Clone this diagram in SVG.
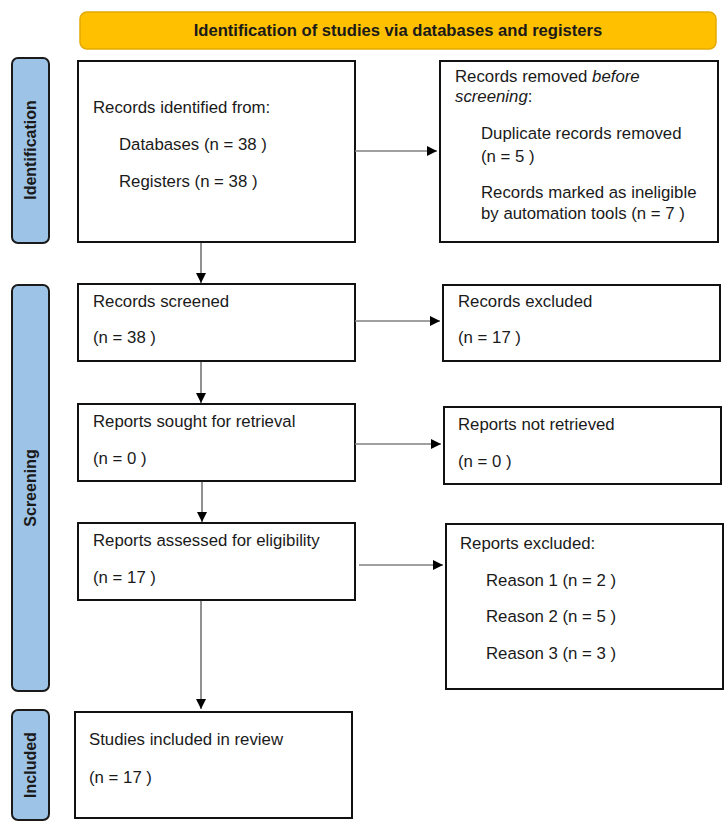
<svg xmlns="http://www.w3.org/2000/svg" width="728" height="828" viewBox="0 0 728 828">
<style>
.box{fill:#fff;stroke:#111;stroke-width:2}
.side{fill:#9DC3E6;stroke:#1a1a1a;stroke-width:2}
.t{font-family:"Liberation Sans",Arial,sans-serif;font-size:16.8px;fill:#1a1a1a}
.b{font-family:"Liberation Sans",Arial,sans-serif;font-size:16px;font-weight:bold;fill:#1a1a1a}
.bt{font-size:16.6px}
.h{stroke:#808080;stroke-width:1.5;fill:none}
.v{stroke:#222;stroke-width:1;fill:none}
</style>
<defs>
<marker id="ah" viewBox="0 0 10 10" refX="10" refY="5" markerWidth="10" markerHeight="10" markerUnits="userSpaceOnUse" orient="auto">
<path d="M0,0 L10,5 L0,10 Z" fill="#000"/>
</marker>
</defs>
<g id="banner">
<rect x="80" y="12" width="636" height="37" rx="7" fill="#FFC000" stroke="#E3A900" stroke-width="1.5"/>
<text class="b bt" x="398" y="36" text-anchor="middle">Identification of studies via databases and registers</text>
</g>
<g id="side-identification">
<rect class="side" x="12" y="58" width="37" height="185" rx="6"/>
<text class="b" transform="translate(36,150) rotate(-90)" text-anchor="middle">Identification</text>
</g>
<g id="side-screening">
<rect class="side" x="12" y="285" width="37" height="406" rx="6"/>
<text class="b" transform="translate(36,488) rotate(-90)" text-anchor="middle">Screening</text>
</g>
<g id="side-included">
<rect class="side" x="12" y="710" width="37" height="110" rx="6"/>
<text class="b" transform="translate(36,765) rotate(-90)" text-anchor="middle">Included</text>
</g>
<g id="records-identified">
<rect class="box" x="78" y="61" width="277" height="181"/>
<text class="t" x="93" y="113">Records identified from:</text>
<text class="t" x="119" y="150">Databases (n = 38 )</text>
<text class="t" x="119" y="187">Registers (n = 38 )</text>
</g>
<g id="records-removed">
<rect class="box" x="440" y="61" width="278" height="181"/>
<text class="t" x="455" y="82">Records removed <tspan font-style="italic">before</tspan></text>
<text class="t" x="455" y="102"><tspan font-style="italic">screening</tspan>:</text>
<text class="t" x="481" y="139">Duplicate records removed</text>
<text class="t" x="481" y="162">(n = 5 )</text>
<text class="t" x="481" y="198">Records marked as ineligible</text>
<text class="t" x="481" y="219">by automation tools (n = 7 )</text>
</g>
<g id="records-screened">
<rect class="box" x="78" y="284" width="277" height="77"/>
<text class="t" x="93" y="307">Records screened</text>
<text class="t" x="93" y="343">(n = 38 )</text>
</g>
<g id="records-excluded">
<rect class="box" x="443" y="285" width="277" height="76"/>
<text class="t" x="458" y="307">Records excluded</text>
<text class="t" x="458" y="343">(n = 17 )</text>
</g>
<g id="reports-sought">
<rect class="box" x="78" y="404" width="277" height="77"/>
<text class="t" x="93" y="427">Reports sought for retrieval</text>
<text class="t" x="93" y="464">(n = 0 )</text>
</g>
<g id="reports-not-retrieved">
<rect class="box" x="444" y="407" width="277" height="77"/>
<text class="t" x="458" y="430">Reports not retrieved</text>
<text class="t" x="458" y="467">(n = 0 )</text>
</g>
<g id="reports-assessed">
<rect class="box" x="78" y="523" width="277" height="77"/>
<text class="t" x="93" y="546">Reports assessed for eligibility</text>
<text class="t" x="93" y="583">(n = 17 )</text>
</g>
<g id="reports-excluded">
<rect class="box" x="446" y="524" width="277" height="165"/>
<text class="t" x="460" y="549">Reports excluded:</text>
<text class="t" x="486" y="586">Reason 1 (n = 2 )</text>
<text class="t" x="486" y="622">Reason 2 (n = 5 )</text>
<text class="t" x="486" y="659">Reason 3 (n = 3 )</text>
</g>
<g id="studies-included">
<rect class="box" x="75" y="712" width="277" height="106"/>
<text class="t" x="89" y="745">Studies included in review</text>
<text class="t" x="89" y="783">(n = 17 )</text>
</g>
<g id="connectors">
<line class="h" x1="355" y1="151" x2="437" y2="151" marker-end="url(#ah)"/>
<line class="h" x1="355" y1="321" x2="440" y2="321" marker-end="url(#ah)"/>
<line class="h" x1="355" y1="444" x2="441" y2="444" marker-end="url(#ah)"/>
<line class="h" x1="359" y1="565" x2="443" y2="565" marker-end="url(#ah)"/>
<line class="v" x1="201" y1="242" x2="201" y2="283" marker-end="url(#ah)"/>
<line class="v" x1="201" y1="361" x2="201" y2="403" marker-end="url(#ah)"/>
<line class="v" x1="202" y1="481" x2="202" y2="522" marker-end="url(#ah)"/>
<line class="v" x1="201" y1="600" x2="201" y2="709" marker-end="url(#ah)"/>
</g>
</svg>
